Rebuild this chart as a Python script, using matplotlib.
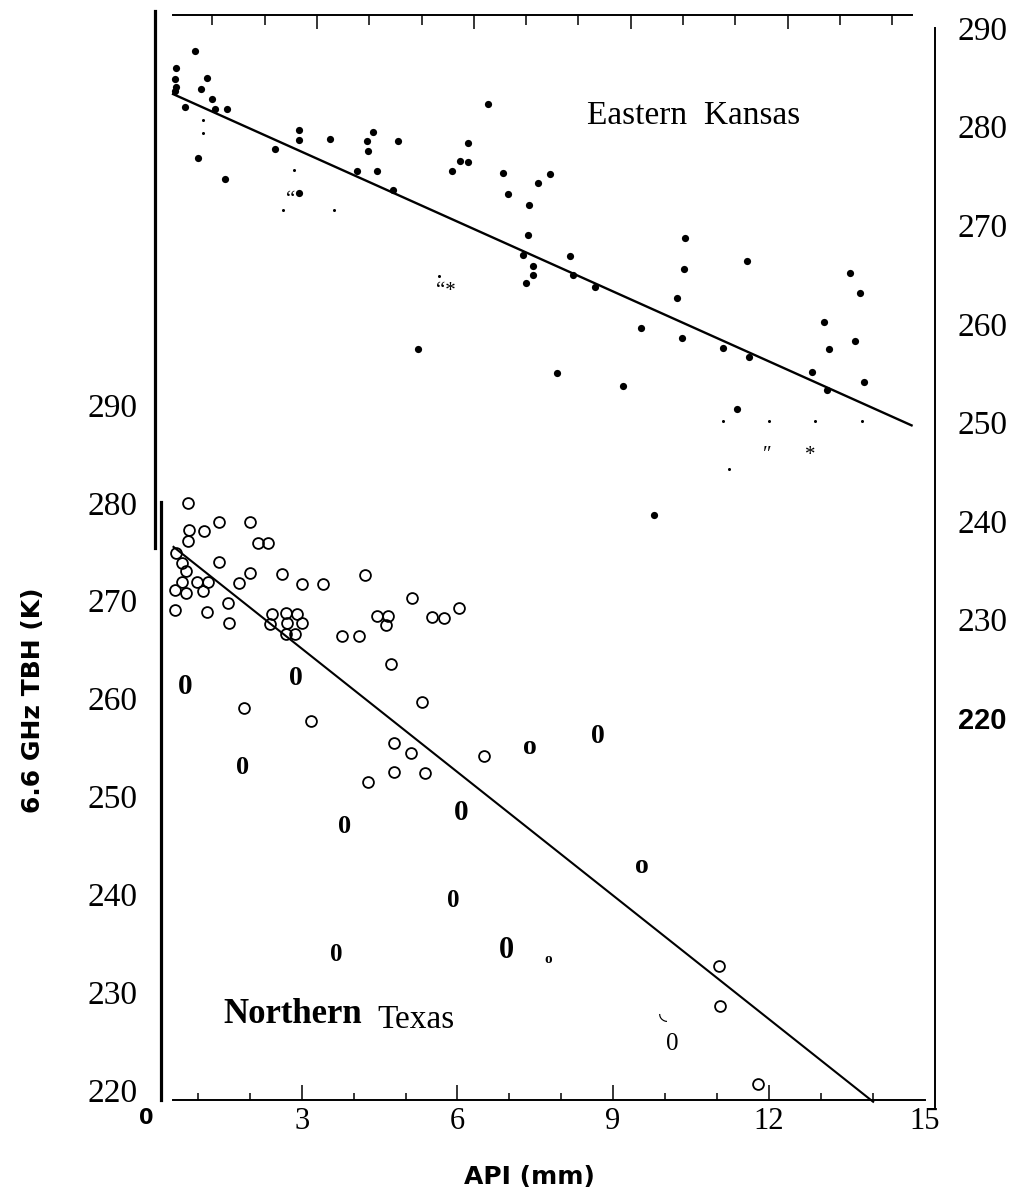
import matplotlib
matplotlib.use('Agg')
import matplotlib.pyplot as plt
from matplotlib.ticker import FixedLocator

# ---------------- data: Eastern Kansas (upper panel, right axis) ----------------
kansas_x = [0.31, 0.29, 0.31, 0.29, 0.67, 0.89, 0.78, 0.99, 0.48, 1.06, 1.29, 0.73, 1.24,
            2.19, 2.65, 2.66, 3.25, 2.66, 3.76, 3.95, 3.97, 4.08, 4.14, 4.56, 4.46, 4.94,
            5.58, 5.74, 5.88, 5.88, 6.28, 6.56, 6.66, 7.23, 7.46, 7.05, 7.03, 6.95, 7.13,
            7.14, 6.99, 7.83, 7.89, 7.60, 8.31, 9.19, 8.86, 9.45, 10.04, 10.01, 9.89, 9.99,
            11.22, 10.76, 11.26, 11.04, 12.47, 12.75, 12.70, 12.79, 13.19, 13.38, 13.28, 13.47]
kansas_y = [285.9, 284.8, 284.0, 283.6, 287.7, 284.9, 283.8, 282.8, 282.0, 281.8, 281.8, 276.8, 274.7,
            277.7, 279.7, 278.6, 278.7, 273.3, 275.5, 278.5, 277.5, 279.5, 275.5, 278.5, 273.6, 257.4,
            275.5, 276.5, 276.4, 278.3, 282.3, 275.3, 273.2, 274.3, 275.2, 272.1, 269.0, 267.0, 265.9,
            265.0, 264.1, 266.9, 265.0, 255.0, 263.7, 259.6, 253.7, 240.6, 268.7, 265.6, 262.6, 258.6,
            266.4, 257.5, 256.6, 251.4, 255.1, 253.3, 260.2, 257.4, 265.2, 263.1, 258.3, 254.1]
kansas_small_x = [0.83, 0.83, 2.57, 2.36, 3.33, 5.34, 10.76, 11.64, 12.53, 13.42, 10.87]
kansas_small_y = [280.7, 279.4, 275.6, 271.5, 271.5, 264.9, 250.1, 250.1, 250.1, 250.1, 245.3]
kansas_line_x = [0.25, 14.37]
kansas_line_y = [283.3, 249.7]
kansas_glyph_txt = ["\u201c", "\u201c*", "\u2033", "*"]
kansas_glyph_x = [2.50, 5.47, 11.61, 12.44]
kansas_glyph_y = [272.5, 263.3, 246.6, 246.6]

# ---------------- data: Northern Texas (lower panel, left axis) ----------------
texas_x = [0.80, 0.83, 0.80, 1.12, 1.41, 2.00, 2.15, 2.36, 0.58, 0.69, 0.78, 0.69, 0.78, 0.56,
           0.99, 1.20, 1.09, 1.40, 1.80, 2.00, 2.62, 3.01, 3.41, 4.22, 0.56, 1.18, 1.58, 1.59,
           2.42, 2.39, 2.69, 2.90, 3.00, 2.71, 2.70, 2.88, 3.78, 4.10, 4.46, 4.67, 4.62, 5.12,
           5.52, 5.75, 6.03, 4.73, 1.89, 3.17, 5.32, 4.78, 5.10, 4.78, 4.27, 5.38, 6.51,
           11.04, 11.06, 11.79]
texas_y = [280.0, 277.2, 276.1, 277.1, 278.0, 278.0, 275.9, 275.9, 274.9, 273.9, 273.0, 271.9, 270.8, 271.1,
           271.9, 271.9, 271.0, 274.0, 271.8, 272.8, 272.7, 271.7, 271.7, 272.6, 269.0, 268.8, 269.8, 267.7,
           268.6, 267.6, 268.7, 268.6, 267.7, 267.7, 266.6, 266.6, 266.4, 266.4, 268.4, 268.4, 267.5, 270.3,
           268.3, 268.2, 269.3, 263.5, 259.0, 257.7, 259.6, 255.5, 254.4, 252.5, 251.5, 252.4, 254.1,
           232.7, 228.6, 220.6]
texas_line_x = [0.53, 14.01]
texas_line_y = [275.5, 218.8]
texas_glyph_txt = ["0", "0", "0", "0", "0", "o", "0", "o", "0", "0", "0", "o", "\u25df", "0"]
texas_glyph_x = [0.75, 2.89, 1.86, 6.08, 3.83, 7.40, 8.70, 9.56, 5.92, 3.66, 6.95, 7.74, 9.97, 10.13]
texas_glyph_y = [261.2, 262.0, 253.0, 248.4, 246.9, 255.0, 256.1, 242.8, 239.4, 233.8, 234.3, 233.3, 227.9, 224.7]
texas_glyph_size = [21, 20, 19, 21, 19, 20, 20, 20, 18, 18, 22, 11, 15, 18]
texas_glyph_bold = [1, 1, 1, 1, 1, 1, 1, 1, 1, 1, 1, 1, 0, 0]

x_ticks = [3, 6, 9, 12, 15]
x_zero_label = "0"
x_minor = [1, 2, 4, 5, 7, 8, 10, 11, 13, 14]
y_ticks = [220, 230, 240, 250, 260, 270, 280, 290]

SERIF = ['Liberation Serif', 'DejaVu Serif']
SANS = ['DejaVu Sans']

fig = plt.figure(figsize=(10.19, 11.98), dpi=100)
rect = [161 / 1019, (1198 - 1100) / 1198, (935 - 161) / 1019, (1100 - 15) / 1198]
ax = fig.add_axes(rect)
axu = fig.add_axes(rect)
axu.patch.set_visible(False)

# ---- lower panel (Northern Texas) ----
ax.set_xlim(0.289, 15.202)
ax.set_ylim(218.98, 329.85)
for s in ['top', 'right']:
    ax.spines[s].set_visible(False)
ax.spines['left'].set_bounds(218.98, 280.1)
ax.spines['left'].set_linewidth(2.3)
ax.spines['bottom'].set_bounds(0.52, 15.01)
ax.spines['bottom'].set_linewidth(1.4)

ax.plot(texas_line_x, texas_line_y, color='black', lw=1.5, clip_on=False, zorder=3)
ax.plot(texas_x, texas_y, linestyle='none', marker='o', ms=7.8, mfc='none',
        mec='black', mew=1.3, zorder=4, clip_on=False)
for t, gx, gy, gs, gb in zip(texas_glyph_txt, texas_glyph_x, texas_glyph_y,
                             texas_glyph_size, texas_glyph_bold):
    fam = SERIF if t != "\u25df" else SANS
    ax.text(gx, gy, t, ha='center', va='center', fontsize=gs,
            fontweight='bold' if gb else 'normal', family=fam, color='black')

ax.text(1.50, 226.85, "Northern", fontsize=25, fontweight='bold', family=SERIF,
        ha='left', va='baseline')
ax.text(4.45, 226.34, "Texas", fontsize=24, family=SERIF, ha='left', va='baseline')

ax.xaxis.set_major_locator(FixedLocator(x_ticks))
ax.xaxis.set_minor_locator(FixedLocator(x_minor))
ax.set_xticklabels([str(v) for v in x_ticks])
ax.tick_params(axis='x', which='major', direction='in', length=11, width=1.1, pad=5,
               labelsize=22)
ax.tick_params(axis='x', which='minor', direction='in', length=5, width=1.1)
for lab in ax.get_xticklabels():
    lab.set_family(SERIF)
ax.xaxis.get_major_ticks()[-1].tick1line.set_visible(False)
# the "0" label sits left of the visible axis range
ax.text(0.0, -0.0075, x_zero_label, transform=ax.get_xaxis_transform(),
        ha='center', va='top', fontsize=15, fontweight='bold', family=SANS,
        clip_on=False)

ax.yaxis.set_major_locator(FixedLocator(y_ticks))
ax.set_yticklabels([str(v) for v in y_ticks])
ax.tick_params(axis='y', which='both', length=0, pad=17, labelsize=24)
for lab in ax.get_yticklabels():
    lab.set_family(SERIF)

ax.set_xlabel("API (mm)", fontsize=18, fontweight='bold', family=SANS)
ax.xaxis.set_label_coords((529 - 161) / 774, (1100 - 1177) / 1085)
ax.xaxis.label.set_va('center')
ax.set_ylabel("6.6 GHz TBH (K)", fontsize=18, fontweight='bold', family=SANS)
ax.yaxis.set_label_coords((33 - 161) / 774, (1100 - 700) / 1085)
ax.yaxis.label.set_va('center')
ax.yaxis.label.set_ha('center')

# ---- upper panel (Eastern Kansas) ----
axu.set_xlim(0.019, 14.818)
axu.set_ylim(181.28, 291.32)
axu.spines['bottom'].set_visible(False)
axu.spines['left'].set_position(('outward', 4.3))
axu.spines['left'].set_bounds(237.3, 291.7)
axu.spines['left'].set_linewidth(2.3)
axu.spines['right'].set_bounds(180.6, 290.0)
axu.spines['right'].set_linewidth(1.4)
axu.spines['top'].set_bounds(0.25, 14.38)
axu.spines['top'].set_linewidth(1.4)

axu.plot(kansas_line_x, kansas_line_y, color='black', lw=1.7, zorder=3)
axu.plot(kansas_x, kansas_y, linestyle='none', marker='o', ms=5.2, mfc='black',
         mec='black', mew=0, zorder=4)
axu.plot(kansas_small_x, kansas_small_y, linestyle='none', marker='o', ms=2.2,
         mfc='black', mec='black', mew=0, zorder=4)
for t, gx, gy in zip(kansas_glyph_txt, kansas_glyph_x, kansas_glyph_y):
    axu.text(gx, gy, t, ha='center', va='center', fontsize=15, family=SERIF)

axu.text(8.16, 280.28, "Eastern  Kansas", fontsize=24, family=SERIF,
         ha='left', va='baseline')

axu.xaxis.tick_top()
axu.xaxis.set_major_locator(FixedLocator([3, 6, 9, 12]))
axu.xaxis.set_minor_locator(FixedLocator(x_minor))
axu.tick_params(axis='x', which='major', direction='in', length=10, width=1.1,
                labeltop=False, labelbottom=False, top=True, bottom=False)
axu.tick_params(axis='x', which='minor', direction='in', length=7, width=1.1,
                top=True, bottom=False)

axu.yaxis.tick_right()
axu.yaxis.set_major_locator(FixedLocator(y_ticks))
axu.set_yticklabels([str(v) for v in y_ticks])
axu.tick_params(axis='y', which='both', length=0, pad=16.5, labelsize=24,
                left=False, labelleft=False, right=True, labelright=True)
for lab in axu.get_yticklabels():
    lab.set_family(SERIF)
yl = axu.get_yticklabels()
yl[0].set_family(['Liberation Sans', 'DejaVu Sans'])
yl[0].set_fontweight('bold')
yl[0].set_fontsize(21)

fig.savefig('out.png', dpi=100, facecolor='white')
